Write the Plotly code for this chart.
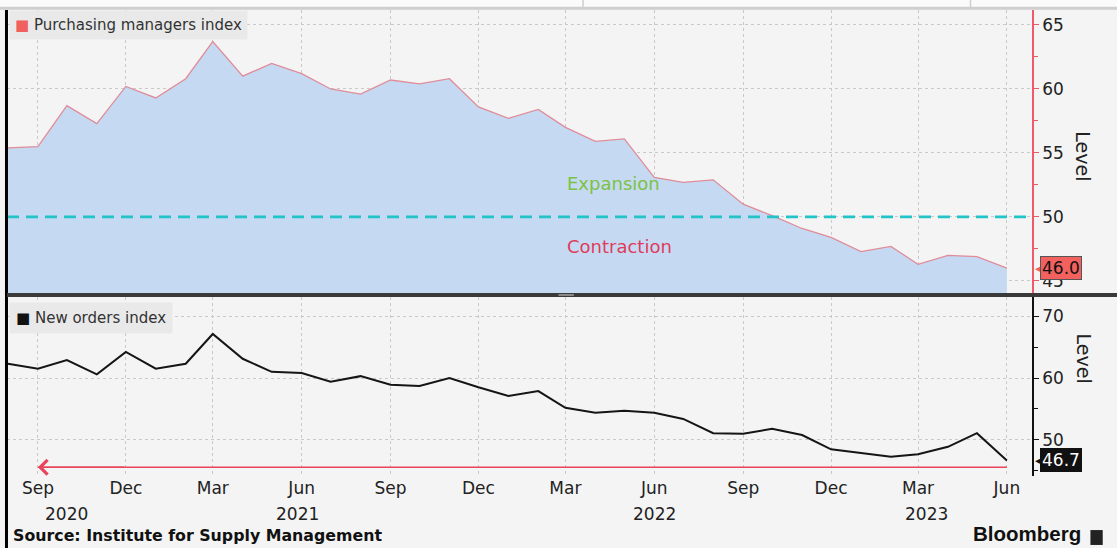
import plotly.graph_objects as go
import pandas as pd

# ---------------- data ----------------
months = pd.date_range("2020-08-01", periods=35, freq="MS")
pmi = [55.4, 55.5, 58.7, 57.3, 60.2, 59.3, 60.8, 63.7, 61.0, 62.0, 61.2, 60.0,
       59.6, 60.7, 60.4, 60.8, 58.6, 57.7, 58.4, 57.0, 55.9, 56.1, 53.1, 52.7,
       52.9, 51.0, 50.1, 49.1, 48.4, 47.3, 47.7, 46.3, 47.0, 46.9, 46.0]
new_orders = [62.3, 61.5, 62.9, 60.6, 64.2, 61.5, 62.3, 67.1, 63.1, 61.0, 60.8, 59.4,
              60.3, 58.9, 58.7, 60.0, 58.5, 57.1, 57.9, 55.2, 54.4, 54.7, 54.4, 53.4,
              51.1, 51.0, 51.8, 50.8, 48.5, 47.9, 47.3, 47.7, 48.9, 51.1, 46.7]
threshold = 50
tick_dates = ["2020-09-01", "2020-12-01", "2021-03-01", "2021-06-01", "2021-09-01",
              "2021-12-01", "2022-03-01", "2022-06-01", "2022-09-01", "2022-12-01",
              "2023-03-01", "2023-06-01"]
tick_text = ["Sep", "Dec", "Mar", "Jun", "Sep", "Dec", "Mar",
             "Jun", "Sep", "Dec", "Mar", "Jun"]
year_labels = ["2020", "2021", "2022", "2023"]
year_label_dates = ["2020-10-01", "2021-05-28", "2022-06-01", "2023-03-10"]
arrow_level = 45.6

FONT = "DejaVu Sans"
BG = "#f4f4f4"
GRID = "#c9c9c9"

fig = go.Figure()

fig.add_trace(go.Scatter(
    x=months, y=pmi, mode="lines", fill="tozeroy",
    fillcolor="#c5daf2", line=dict(color="#e08c99", width=1.3),
    xaxis="x2", yaxis="y2", showlegend=False, hoverinfo="skip"))
fig.add_trace(go.Scatter(
    x=months, y=new_orders, mode="lines", line=dict(color="#151515", width=2),
    xaxis="x", yaxis="y", showlegend=False, hoverinfo="skip"))
fig.add_trace(go.Scatter(
    x=[tick_dates[0], months[-1]], y=[arrow_level, arrow_level], mode="lines",
    line=dict(color="#e8455c", width=1.6),
    xaxis="x", yaxis="y", showlegend=False, hoverinfo="skip"))

xcommon = dict(range=["2020-07-31", "2023-06-27"], showgrid=True, gridcolor=GRID,
               griddash="dot", gridwidth=1, zeroline=False, showline=False,
               tickvals=tick_dates, fixedrange=True)

fig.update_layout(
    width=1117, height=548,
    margin=dict(l=7, r=85, t=10, b=72),
    paper_bgcolor=BG, plot_bgcolor=BG,
    font=dict(family=FONT, size=17, color="#222"),
    xaxis=dict(**xcommon, anchor="y", ticktext=tick_text, ticks="",
               tickfont=dict(size=17, color="#222")),
    xaxis2=dict(**xcommon, anchor="y2", showticklabels=False, matches="x"),
    yaxis=dict(domain=[0, 0.384], range=[44.19, 73.06], side="right",
               tickvals=[50, 60, 70], showgrid=True, gridcolor=GRID, griddash="dot",
               zeroline=False, showline=True, linecolor="#111", linewidth=1.5,
               ticks="outside", ticklen=5, tickcolor="#111",
               minor=dict(tickvals=[45, 55, 65], ticks="outside", ticklen=4, tickcolor="#111"),
               tickfont=dict(size=17, color="#222"), anchor="x"),
    yaxis2=dict(domain=[0.3927, 1], range=[44.06, 66.17], side="right",
                tickvals=[45, 50, 55, 60, 65], showgrid=True, gridcolor=GRID, griddash="dot",
                zeroline=False, showline=True, linecolor="#ef5a6a", linewidth=1.5,
                ticks="outside", ticklen=5, tickcolor="#ef5a6a",
                minor=dict(tickvals=[47.5, 52.5, 57.5, 62.5], ticks="outside", ticklen=4,
                           tickcolor="#ef5a6a"),
                tickfont=dict(size=17, color="#222"), anchor="x2"),
)

# year labels under the month ticks
for yl, yd in zip(year_labels, year_label_dates):
    fig.add_annotation(x=yd, y=0, xref="x", yref="paper", yanchor="top", yshift=-26,
                       text=yl, showarrow=False, font=dict(size=17, color="#222"))

# arrow head of the red line
fig.add_annotation(x=tick_dates[0], y=arrow_level, xref="x", yref="y",
                   ax=tick_dates[1], ay=arrow_level, axref="x", ayref="y",
                   showarrow=True, arrowhead=4, arrowsize=1.9, arrowwidth=1.5,
                   arrowcolor="#e8455c", text="")

# Expansion / Contraction labels
fig.add_annotation(x="2022-03-01", y=52.6, xref="x2", yref="y2", xanchor="left",
                   text="Expansion", showarrow=False,
                   font=dict(size=18, color="#7cc242", family=FONT))
fig.add_annotation(x="2022-03-01", y=47.7, xref="x2", yref="y2", xanchor="left",
                   text="Contraction", showarrow=False,
                   font=dict(size=18, color="#e03a5c", family=FONT))

# legend boxes
fig.add_annotation(x=0.0015, y=1.0, xref="paper", yref="paper", xanchor="left", yanchor="top",
                   text="<span style='color:#f0605e'>■</span> Purchasing managers index",
                   showarrow=False, bgcolor="#e9e9e9", borderpad=5,
                   font=dict(size=15, color="#333", family=FONT))
fig.add_annotation(x=0.0015, y=0.373, xref="paper", yref="paper", xanchor="left", yanchor="top",
                   text="<span style='color:#111'>■</span> New orders index",
                   showarrow=False, bgcolor="#e9e9e9", borderpad=6,
                   font=dict(size=15, color="#333", family=FONT))

# last value labels
fig.add_annotation(x=1, y=pmi[-1], xref="paper", yref="y2", xanchor="left", xshift=1,
                   text="◀", showarrow=False, font=dict(size=14, color="#f2615e"))
fig.add_annotation(x=1, y=pmi[-1], xref="paper", yref="y2", xanchor="left", xshift=8,
                   text=f"{pmi[-1]:.1f}", showarrow=False, bgcolor="#f2615e",
                   bordercolor="#555", borderwidth=1, borderpad=1,
                   font=dict(size=17, color="#111"))
fig.add_annotation(x=1, y=new_orders[-1], xref="paper", yref="y", xanchor="left", xshift=1,
                   text="◀", showarrow=False, font=dict(size=14, color="#111"))
fig.add_annotation(x=1, y=new_orders[-1], xref="paper", yref="y", xanchor="left", xshift=8,
                   text=f"{new_orders[-1]:.1f}", showarrow=False, bgcolor="#111",
                   bordercolor="#111", borderwidth=1, borderpad=1,
                   font=dict(size=17, color="#fff"))

# axis titles
fig.add_annotation(x=1.063, y=0.745, xref="paper", yref="paper", text="Level",
                   textangle=90, showarrow=False, font=dict(size=19, color="#222"))
fig.add_annotation(x=1.063, y=0.195, xref="paper", yref="paper", text="Level",
                   textangle=90, showarrow=False, font=dict(size=19, color="#222"))

# source & branding
fig.add_annotation(x=0.004, y=-0.152, xref="paper", yref="paper", xanchor="left", yanchor="bottom",
                   text="<b>Source: Institute for Supply Management</b>", showarrow=False,
                   font=dict(size=15.8, color="#111", family=FONT))
fig.add_annotation(x=1.05, y=-0.152, xref="paper", yref="paper", xanchor="right", yanchor="bottom",
                   text="<b>Bloomberg</b>", showarrow=False,
                   font=dict(size=20.5, color="#111", family="Liberation Sans"))

# decorative frame elements
shapes = [
    # threshold line at 50
    dict(type="line", xref="x2 domain", yref="y2", x0=0, x1=1, y0=threshold, y1=threshold,
         line=dict(color="#22c4c8", width=2.8, dash="12px,7px"), layer="above"),
    # top header strip
    dict(type="rect", xref="paper", yref="paper", x0=-0.01, x1=1.1, y0=1.0043, y1=1.03,
         fillcolor="#fafafa", line=dict(width=0), layer="above"),
    dict(type="line", xref="paper", yref="paper", x0=-0.01, x1=1.1, y0=1.004, y1=1.004,
         line=dict(color="#cfcfcf", width=3), layer="above"),
    dict(type="line", xref="paper", yref="paper", x0=0.562, x1=0.562, y0=1.006, y1=1.03,
         line=dict(color="#cfcfcf", width=1.5), layer="above"),
    dict(type="line", xref="paper", yref="paper", x0=0.94, x1=0.94, y0=1.006, y1=1.03,
         line=dict(color="#cfcfcf", width=1.5), layer="above"),
    # left black border
    dict(type="line", xref="paper", yref="paper", x0=-0.0005, x1=-0.0005, y0=1.0, y1=-0.16,
         line=dict(color="#000", width=3), layer="above"),
    # panel separator
    dict(type="line", xref="paper", yref="paper", x0=0, x1=1.09, y0=0.3885, y1=0.3885,
         line=dict(color="#3a3a3a", width=4), layer="above"),
    dict(type="line", xref="paper", yref="paper", x0=0.538, x1=0.553, y0=0.3885, y1=0.3885,
         line=dict(color="#8a8a8a", width=2), layer="above"),
    # Bloomberg icon
    dict(type="rect", xref="paper", yref="paper", x0=1.057, x1=1.069, y0=-0.148, y1=-0.116,
         fillcolor="#222", line=dict(width=0), layer="above"),
]
fig.update_layout(shapes=shapes)

fig.write_html("out.html", config={"displayModeBar": False},
               post_script="document.body.style.margin='0';")
